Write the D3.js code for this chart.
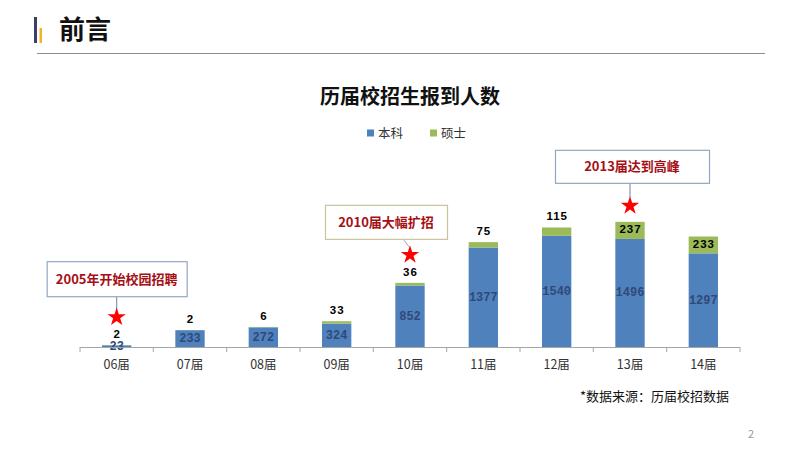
<!DOCTYPE html>
<html><head><meta charset="utf-8">
<script src="https://cdn.jsdelivr.net/npm/d3@7"></script>
<style>body{margin:0;background:#fff;}svg{display:block;}</style>
</head><body>
<svg id="c" width="800" height="450"></svg>
<script>
const categories = ["06届","07届","08届","09届","10届","11届","12届","13届","14届"];
const undergrad = [23,233,272,324,852,1377,1540,1496,1297];
const master = [2,2,6,33,36,75,115,237,233];
const seriesNames = ["本科","硕士"];
const annotations = [
  {cat:"06届", text:"2005年开始校园招聘"},
  {cat:"10届", text:"2010届大幅扩招"},
  {cat:"13届", text:"2013届达到高峰"}
];

const svg = d3.select("#c");
const font = "'Noto Sans CJK SC','Noto Sans',sans-serif";

// header
svg.append("rect").attr("x",34).attr("y",17).attr("width",3).attr("height",26).attr("fill","#3a3f63");
svg.append("rect").attr("x",39.5).attr("y",28).attr("width",2.5).attr("height",15).attr("fill","#f0b323");
svg.append("text").attr("x",59).attr("y",39).attr("font-family",font).attr("font-weight","bold")
  .attr("font-size",26).attr("fill","#111").text("前言");
svg.append("line").attr("x1",37).attr("x2",765).attr("y1",53.5).attr("y2",53.5).attr("stroke","#8c8c8c").attr("stroke-width",1.2);

// title
svg.append("text").attr("x",410).attr("y",104).attr("text-anchor","middle").attr("font-family",font)
  .attr("font-weight","bold").attr("font-size",20).attr("fill","#111").text("历届校招生报到人数");

const colors = ["#4f81bd","#9bbb59"];
// legend
const lg = [{n:seriesNames[0],x:367},{n:seriesNames[1],x:430}];
lg.forEach((d,i)=>{
  svg.append("rect").attr("x",d.x).attr("y",129.5).attr("width",7).attr("height",7).attr("fill",colors[i]);
  svg.append("text").attr("x",d.x+11).attr("y",137.5).attr("font-family",font).attr("font-size",12.5)
    .attr("fill","#333").text(d.n);
});

const x = d3.scaleBand().domain(categories).range([80,740]).paddingInner(0.6).paddingOuter(0.3);
const y = d3.scaleLinear().domain([0,1800]).range([347,217]);

const data = categories.map((c,i)=>({c, u:undergrad[i], m:master[i]}));

// bars
const g = svg.append("g");
g.selectAll(".bu").data(data).join("rect")
  .attr("x",d=>x(d.c)).attr("width",x.bandwidth())
  .attr("y",d=>y(d.u)).attr("height",d=>y(0)-y(d.u)).attr("fill",colors[0]);
g.selectAll(".bm").data(data).join("rect")
  .attr("x",d=>x(d.c)).attr("width",x.bandwidth())
  .attr("y",d=>y(d.u+d.m)).attr("height",d=>y(d.u)-y(d.u+d.m)).attr("fill",colors[1]);

// axis
const axis = d3.axisBottom(x).tickSize(0).tickPadding(13);
const ag = svg.append("g").attr("transform","translate(0,347)").call(axis);
ag.select(".domain").attr("stroke","#a6a6a6").attr("d","M80,0.5H740");
ag.selectAll("text").attr("font-family",font).attr("font-size",12.5).attr("fill","#333");
// boundary ticks
const step = x.step();
const bounds = d3.range(categories.length+1).map(i=>80+i*step);
ag.selectAll(".bt").data(bounds).join("line").attr("x1",d=>d).attr("x2",d=>d)
  .attr("y1",0).attr("y2",5).attr("stroke","#a6a6a6");

// value labels
g.selectAll(".lu").data(data).join("text")
  .attr("x",d=>x(d.c)+x.bandwidth()/2).attr("y",d=>(y(0)+y(d.u))/2+3.5)
  .attr("text-anchor","middle").attr("font-family","'Liberation Mono',monospace")
  .attr("font-weight","bold").attr("font-size",12).attr("fill","#2f4a78").text(d=>d.u);
const inside = d => (y(d.u)-y(d.u+d.m))>12;
g.selectAll(".lm").data(data).join("text")
  .attr("x",d=>x(d.c)+x.bandwidth()/2+0.5)
  .attr("y",d=>inside(d)? (y(d.u)+y(d.u+d.m))/2+3 : y(d.u+d.m)-7)
  .attr("text-anchor","middle").attr("font-family","'Liberation Sans',Arial,sans-serif")
  .attr("font-weight","bold").attr("font-size",11.5).attr("letter-spacing",1).attr("fill","#000").text(d=>d.m);

// annotations
const star = d3.symbol().type(d3.symbolStar).size(105);
const boxLayout = [
  {w:140,h:35,dx:0,gap:21,border:"#94a7c2",slant:0},
  {w:122,h:34,dx:-24,gap:16,border:"#c9c49c",slant:1},
  {w:154,h:33,dx:2,gap:23,border:"#94a7c2",slant:0}
];
annotations.forEach((a,i)=>{
  const d = data.find(e=>e.c===a.cat);
  const cx = x(a.cat)+x.bandwidth()/2;
  const top = y(d.u+d.m) - (inside(d)?0:12);
  const sy = top-16;
  const L = boxLayout[i];
  const by = sy - L.gap - L.h/2;
  const bx = cx + L.dx;
  if(L.slant){
    svg.append("line").attr("x1",cx-7).attr("y1",by+L.h/2).attr("x2",cx-1).attr("y2",sy-8)
      .attr("stroke","#93a9c9").attr("stroke-width",1);
  } else {
    svg.append("line").attr("x1",cx).attr("y1",by+L.h/2).attr("x2",cx).attr("y2",sy-8)
      .attr("stroke","#7f98bc").attr("stroke-width",1.2);
  }
  svg.append("rect").attr("x",bx-L.w/2+0.5).attr("y",by-L.h/2+0.5).attr("width",L.w).attr("height",L.h)
    .attr("fill","#fff").attr("stroke",L.border).attr("stroke-width",1.2);
  svg.append("text").attr("x",bx).attr("y",by+5).attr("text-anchor","middle").attr("font-family",font)
    .attr("font-weight","bold").attr("font-size",13).attr("fill","#a50f15").text(a.text);
  svg.append("path").attr("d",star).attr("transform",`translate(${cx},${sy})`).attr("fill","#ff0000");
});

// footnote
svg.append("text").attr("x",580).attr("y",401).attr("font-family",font).attr("font-size",13)
  .attr("fill","#111").text("*数据来源：历届校招数据");
svg.append("text").attr("x",748).attr("y",438).attr("font-family",font).attr("font-size",11)
  .attr("fill","#999").text("2");
</script>
</body></html>
